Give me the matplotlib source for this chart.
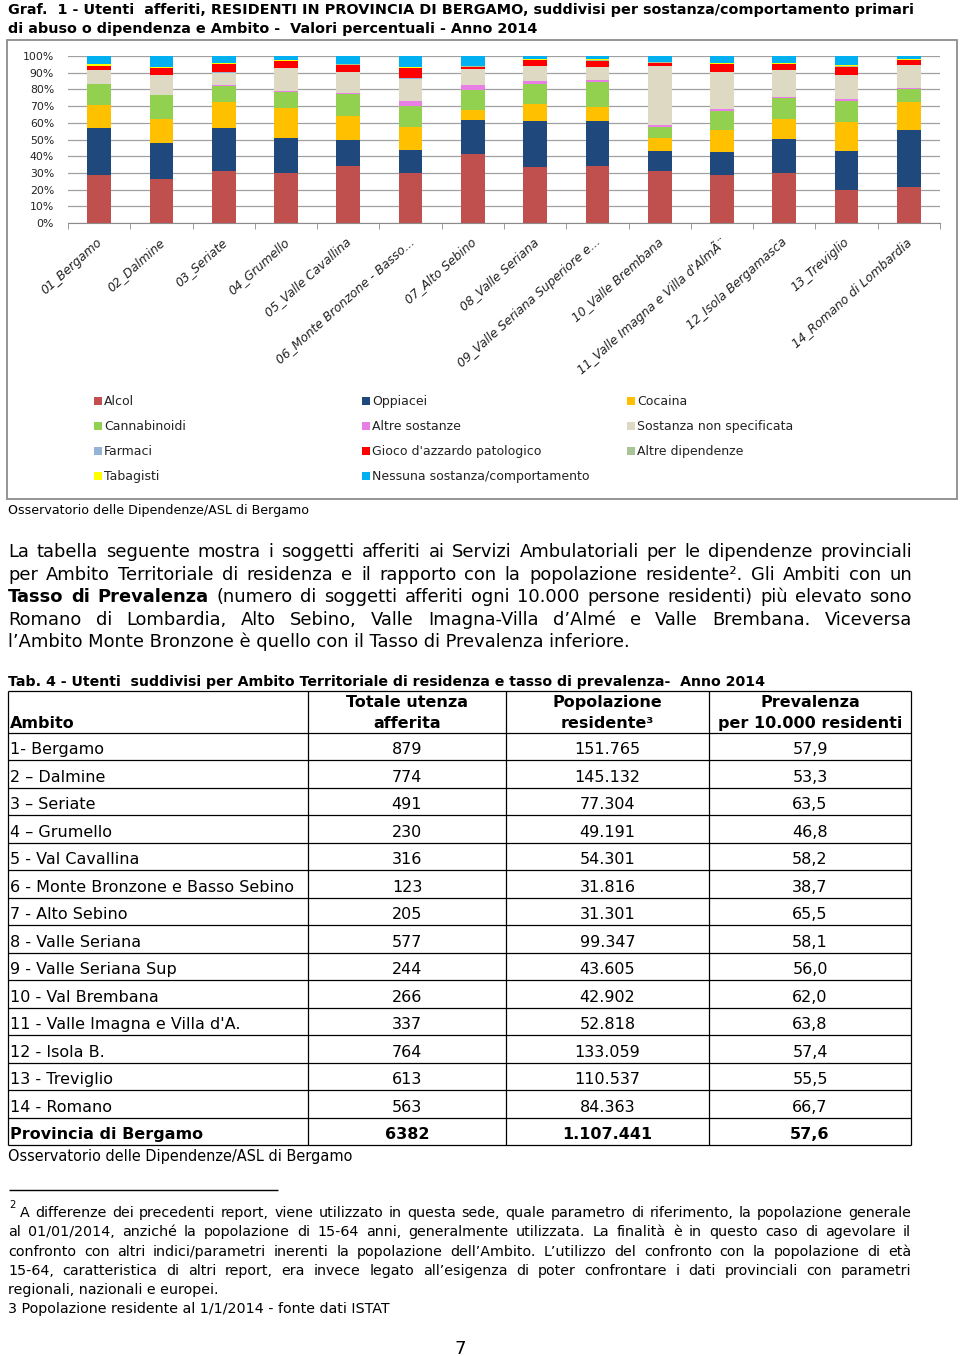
import matplotlib
matplotlib.use("Agg")
import matplotlib.pyplot as plt
from matplotlib.patches import Rectangle
from matplotlib.transforms import ScaledTranslation
import numpy as np

# ---------------- DATA ----------------
categories = ["01_Bergamo", "02_Dalmine", "03_Seriate", "04_Grumello",
              "05_Valle Cavallina", "06_Monte Bronzone - Basso...",
              "07_Alto Sebino", "08_Valle Seriana",
              "09_Valle Seriana Superiore e...", "10_Valle Brembana",
              "11_Valle Imagna e Villa d'AlmÃ¨", "12_Isola Bergamasca",
              "13_Treviglio", "14_Romano di Lombardia"]

alcol        = [28.7, 26.3, 31.1, 29.7, 34.1, 29.7, 41.6, 33.7, 34.1, 31.3, 28.7, 30.1, 19.7, 21.7]
oppiacei     = [28.3, 21.7, 25.9, 20.9, 15.9, 13.9, 20.0, 27.3, 26.9, 11.9, 13.9, 20.1, 23.5, 33.9]
cocaina      = [13.9, 14.2, 15.5, 18.3, 13.9, 14.0, 5.9, 10.5, 8.5, 7.8, 13.0, 12.0, 17.4, 16.9]
cannabinoidi = [12.2, 14.3, 9.6, 9.6, 13.6, 12.5, 12.4, 12.0, 15.0, 6.2, 11.5, 12.9, 12.5, 8.0]
altre_sost   = [0.3, 0.3, 0.3, 0.3, 0.5, 2.8, 2.6, 1.6, 1.4, 1.4, 1.4, 0.3, 1.4, 0.3]
non_spec     = [8.0, 11.6, 7.6, 14.0, 12.4, 13.6, 9.5, 8.9, 7.5, 35.4, 21.9, 16.0, 13.9, 13.6]
farmaci      = [0.2, 0.2, 0.2, 0.2, 0.2, 0.2, 0.2, 0.2, 0.2, 0.2, 0.2, 0.2, 0.2, 0.2]
gioco        = [2.4, 4.2, 4.8, 4.0, 4.2, 6.1, 1.4, 3.4, 3.6, 1.8, 4.6, 3.4, 5.0, 3.0]
altre_dip    = [0.2, 0.2, 0.2, 0.2, 0.2, 0.2, 0.2, 0.2, 0.2, 0.2, 0.2, 0.2, 0.2, 0.2]
tabagisti    = [1.2, 0.6, 0.5, 0.2, 0.4, 0.3, 0.4, 0.6, 0.6, 0.2, 0.6, 0.6, 1.0, 0.5]
nessuna      = [4.6, 6.4, 4.3, 2.6, 4.6, 6.7, 5.8, 1.6, 2.0, 3.6, 4.0, 4.2, 5.2, 1.7]

series_labels = ["Alcol", "Oppiacei", "Cocaina", "Cannabinoidi", "Altre sostanze",
                 "Sostanza non specificata", "Farmaci", "Gioco d'azzardo patologico",
                 "Altre dipendenze", "Tabagisti", "Nessuna sostanza/comportamento"]
series_colors = ["#C0504D", "#1F497D", "#FFC000", "#92D050", "#E87EE6",
                 "#DDD9C3", "#95B3D7", "#FF0000", "#A8C596", "#FFFF00", "#00B0F0"]

ambiti = ["1- Bergamo", "2 \u2013 Dalmine", "3 \u2013 Seriate", "4 \u2013 Grumello",
          "5 - Val Cavallina", "6 - Monte Bronzone e Basso Sebino", "7 - Alto Sebino",
          "8 - Valle Seriana", "9 - Valle Seriana Sup", "10 - Val Brembana",
          "11 - Valle Imagna e Villa d'A.", "12 - Isola B.", "13 - Treviglio",
          "14 - Romano"]
totale_utenza = ["879", "774", "491", "230", "316", "123", "205", "577", "244",
                 "266", "337", "764", "613", "563"]
popolazione = ["151.765", "145.132", "77.304", "49.191", "54.301", "31.816", "31.301",
               "99.347", "43.605", "42.902", "52.818", "133.059", "110.537", "84.363"]
prevalenza = ["57,9", "53,3", "63,5", "46,8", "58,2", "38,7", "65,5", "58,1", "56,0",
              "62,0", "63,8", "57,4", "55,5", "66,7"]
totale_row = ["Provincia di Bergamo", "6382", "1.107.441", "57,6"]

title_lines = ["Graf.  1 - Utenti  afferiti, RESIDENTI IN PROVINCIA DI BERGAMO, suddivisi per sostanza/comportamento primari",
               "di abuso o dipendenza e Ambito -  Valori percentuali - Anno 2014"]
source_text = "Osservatorio delle Dipendenze/ASL di Bergamo"
paragraph = [
    [("La tabella seguente mostra i soggetti afferiti ai Servizi Ambulatoriali per le dipendenze provinciali", "normal")],
    [("per Ambito Territoriale di residenza e il rapporto con la popolazione residente\u00b2. Gli Ambiti con un", "normal")],
    [("Tasso di Prevalenza", "bold"), ("(numero di soggetti afferiti ogni 10.000 persone residenti) più elevato sono", "normal")],
    [("Romano di Lombardia, Alto Sebino, Valle Imagna-Villa d\u2019Almé e Valle Brembana. Viceversa", "normal")],
    [("l\u2019Ambito Monte Bronzone è quello con il Tasso di Prevalenza inferiore.", "normal")],
]
table_title = "Tab. 4 - Utenti  suddivisi per Ambito Territoriale di residenza e tasso di prevalenza-  Anno 2014"
footnotes = [
    "A differenze dei precedenti report, viene utilizzato in questa sede, quale parametro di riferimento, la popolazione generale",
    "al 01/01/2014, anziché la popolazione di 15-64 anni, generalmente utilizzata. La finalità è in questo caso di agevolare il",
    "confronto con altri indici/parametri inerenti la popolazione dell\u2019Ambito.  L\u2019utilizzo del confronto con la popolazione di età",
    "15-64,  caratteristica di altri report, era invece legato all\u2019esigenza di poter confrontare i dati provinciali con parametri",
    "regionali, nazionali e europei.",
    "3 Popolazione residente al 1/1/2014 - fonte dati ISTAT",
]

# ---------------- FIGURE ----------------
W, H = 960, 1356
FONT = ["DejaVu Sans"]
NARROW = ["DejaVu Sans Condensed", "Liberation Sans Narrow", "DejaVu Sans"]
plt.rcParams["font.family"] = FONT

fig = plt.figure(figsize=(W / 100, H / 100), dpi=100)
fig.patch.set_facecolor("white")
renderer = fig.canvas.get_renderer()

bg = fig.add_axes([0, 0, 1, 1])
bg.set_xlim(0, W)
bg.set_ylim(H, 0)
bg.axis("off")


def measure(s, size, weight="normal", family=FONT):
    t = bg.text(0, 0, s, fontsize=size, fontweight=weight, family=family)
    w = t.get_window_extent(renderer).width
    t.remove()
    return w


def fit(s, target, weight="normal", family=FONT):
    return 10.0 * target / measure(s, 10, weight, family)


def put(x, y, s, size, weight="normal", family=FONT, ha="left"):
    bg.text(x, y, s, fontsize=size, fontweight=weight, family=family,
            ha=ha, va="baseline", color="black")


def justify(segments, x0, x1, y, size, family=FONT):
    words = []
    for txt, wt in segments:
        for w in txt.split():
            words.append((w, wt))
    widths = [measure(w, size, wt, family) for w, wt in words]
    gap = (x1 - x0 - sum(widths)) / (len(words) - 1)
    x = x0
    for (w, wt), wd in zip(words, widths):
        put(x, y, w, size, wt, family)
        x += wd + gap


# ---- title ----
ts = fit(title_lines[0], 904, "bold", NARROW)
put(8, 14, title_lines[0], ts, "bold", NARROW)
put(8, 33, title_lines[1], ts, "bold", NARROW)

# ---- chart frame ----
bg.add_patch(Rectangle((7, 40), 950, 459, fill=False, ec="#8c8c8c", lw=1.3))

# ---- chart ----
ax = fig.add_axes([68 / W, 1 - 223 / H, 872 / W, 167 / H])
xpos = np.arange(len(categories))
series = [alcol, oppiacei, cocaina, cannabinoidi, altre_sost, non_spec,
          farmaci, gioco, altre_dip, tabagisti, nessuna]
bottom = np.zeros(len(categories))
handles = []
for vals, lab, col in zip(series, series_labels, series_colors):
    b = ax.bar(xpos, vals, 0.38, bottom=bottom, color=col, label=lab, linewidth=0, zorder=3)
    handles.append(b)
    bottom = bottom + np.array(vals)

ax.set_xlim(-0.5, len(categories) - 0.5)
ax.set_ylim(0, 100)
ax.set_yticks(range(0, 101, 10))
ax.set_yticklabels([f"{v}%" for v in range(0, 101, 10)], fontsize=7.8, color="#222222")
ax.yaxis.grid(True, color="#a0a0a0", lw=0.9, zorder=0)
ax.set_axisbelow(True)
for s in ["top", "right", "left"]:
    ax.spines[s].set_visible(False)
ax.spines["bottom"].set_color("#8c8c8c")
ax.tick_params(axis="y", length=0, pad=10)
ax.set_xticks(xpos)
ax.set_xticklabels(categories, rotation=42, ha="right", va="top",
                   rotation_mode="anchor", fontsize=8.8, fontstyle="italic", color="#222222")
ax.tick_params(axis="x", which="major", length=0, pad=9)
ax.set_xticks(np.arange(-0.5, len(categories), 1.0), minor=True)
ax.tick_params(axis="x", which="minor", length=4, color="#8c8c8c")
off = ScaledTranslation(-3 / 100, 0, fig.dpi_scale_trans)
for lbl in ax.get_xticklabels():
    lbl.set_transform(lbl.get_transform() + off)

# ---- legend (3 columns, row-wise order) ----
cols_idx = [[0, 3, 6, 9], [1, 4, 7, 10], [2, 5, 8]]
cols_x = [94, 362, 627]
for idx, cx in zip(cols_idx, cols_x):
    fig.legend([handles[i] for i in idx], [series_labels[i] for i in idx],
               loc="upper left", bbox_to_anchor=(cx / W, 1 - 395 / H),
               frameon=False, fontsize=9, handlelength=0.6, handleheight=0.6,
               handletextpad=0.2, labelspacing=0.97, borderpad=0, borderaxespad=0,
               labelcolor="#222222")

# ---- chart source ----
put(8, 514, source_text, fit(source_text, 300))

# ---- paragraph ----
last = paragraph[-1][0][0]
ps = fit(last, 626)
nat = max(sum(measure(t, ps, wt) for t, wt in line) for line in paragraph[:-1])
if nat > 880:
    ps *= 880 / nat
para_base = [557, 580, 602, 625, 647]
for i, line in enumerate(paragraph):
    if i < len(paragraph) - 1:
        justify(line, 8, 912, para_base[i], ps)
    else:
        put(8, para_base[i], line[0][0], ps)

# ---- table ----
put(8, 686, table_title, fit(table_title, 758, "bold"), "bold")
tsz = fit(ambiti[5], 282)
col_x = [8, 308, 506, 709, 911]
centers = [(col_x[1] + col_x[2]) / 2, (col_x[2] + col_x[3]) / 2, (col_x[3] + col_x[4]) / 2]
top, hdr_bottom, rowh = 691, 733, 27.47
nrows = len(ambiti) + 1
bottom_y = hdr_bottom + nrows * rowh
ys = [top, hdr_bottom] + [hdr_bottom + (i + 1) * rowh for i in range(nrows)]
bg.hlines(ys, col_x[0], col_x[-1], color="black", lw=0.9)
bg.vlines(col_x, top, bottom_y, color="black", lw=0.9)

put(10, 728, "Ambito", tsz, "bold")
put(centers[0], 707, "Totale utenza", tsz, "bold", ha="center")
put(centers[0], 728, "afferita", tsz, "bold", ha="center")
put(centers[1], 707, "Popolazione", tsz, "bold", ha="center")
put(centers[1], 728, "residente\u00b3", tsz, "bold", ha="center")
put(centers[2], 707, "Prevalenza", tsz, "bold", ha="center")
put(centers[2], 728, "per 10.000 residenti", tsz, "bold", ha="center")

for i in range(len(ambiti)):
    yb = hdr_bottom + (i + 1) * rowh - 6
    put(10, yb, ambiti[i], tsz)
    put(centers[0], yb, totale_utenza[i], tsz, ha="center")
    put(centers[1], yb, popolazione[i], tsz, ha="center")
    put(centers[2], yb, prevalenza[i], tsz, ha="center")
yb = hdr_bottom + nrows * rowh - 6
put(10, yb, totale_row[0], tsz, "bold")
for c, v in zip(centers, totale_row[1:]):
    put(c, yb, v, tsz, "bold", ha="center")

put(8, 1161, source_text, fit(source_text, 344))

# ---- footnotes ----
bg.hlines([1190], 9, 278, color="black", lw=1.0)
fs = fit(footnotes[0], 880, family=NARROW)
put(9, 1208, "2", fs * 0.7, family=NARROW)
foot_base = [1217, 1236, 1256, 1275, 1294, 1313]
justify([(footnotes[0], "normal")], 20, 911, foot_base[0], fs, NARROW)
for i in range(1, 4):
    justify([(footnotes[i], "normal")], 8, 911, foot_base[i], fs, NARROW)
put(8, foot_base[4], footnotes[4], fs, family=NARROW)
put(8, foot_base[5], footnotes[5], fs, family=NARROW)

put(460, 1354, "7", 13, family=NARROW, ha="center")

fig.savefig("out.png", dpi=100, facecolor="white")
